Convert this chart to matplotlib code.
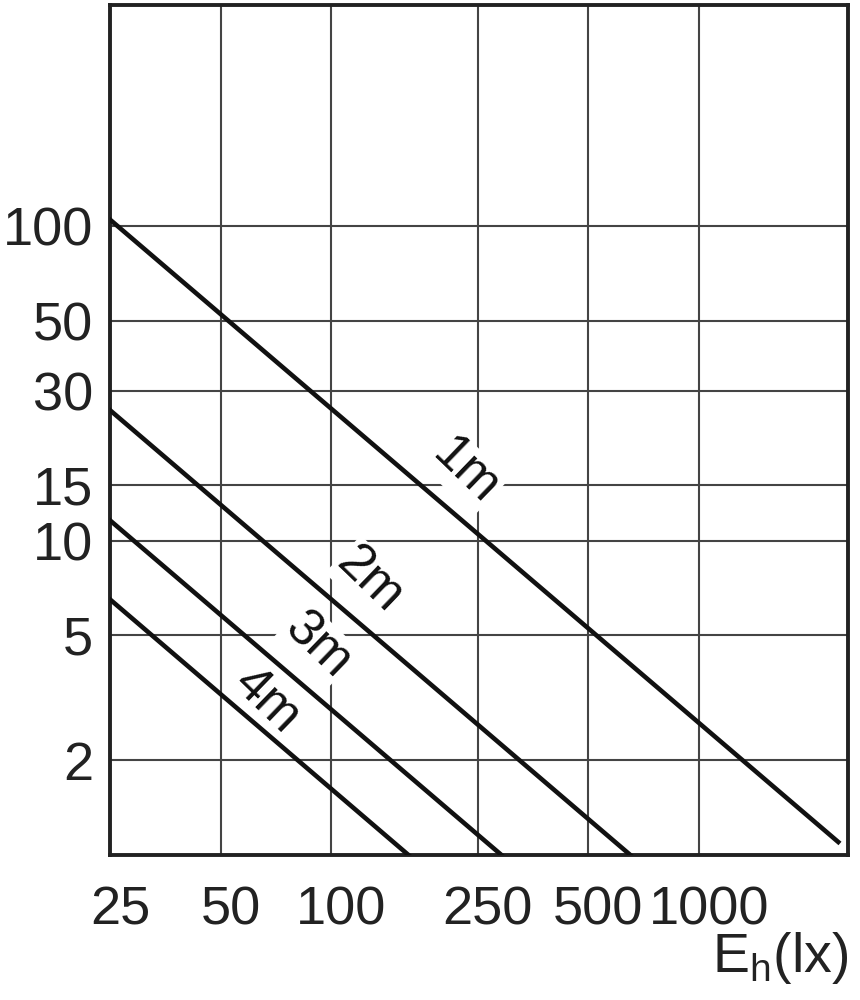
import matplotlib.pyplot as plt
import matplotlib.transforms as mtransforms
from matplotlib.ticker import FixedLocator, NullLocator

plt.rcParams['font.family'] = ['Liberation Sans', 'DejaVu Sans']

# illuminance E_h (lx) vs value, one line per mounting distance
dist_labels = ["1m", "2m", "3m", "4m"]
x_ends = [[25, 2390], [25, 650], [25, 290], [25, 162]]
y_ends = [[105, 1.1], [26, 1.0], [11.6, 1.0], [6.5, 1.0]]
label_x = [231, 127, 91.6, 66.8]
label_y = [16.6, 7.5, 4.65, 3.1]

xticks = [25, 50, 100, 250, 500, 1000]
yticks = [2, 5, 10, 15, 30, 50, 100]

fig = plt.figure(figsize=(8.6, 10), dpi=100)
ax = fig.add_axes([0.128, 0.145, 0.858, 0.85])
ax.set_xscale('log')
ax.set_yscale('log')
ax.set_xlim(25, 2540)
ax.set_ylim(1, 506)

ax.xaxis.set_major_locator(FixedLocator(xticks))
ax.yaxis.set_major_locator(FixedLocator(yticks))
ax.xaxis.set_minor_locator(NullLocator())
ax.yaxis.set_minor_locator(NullLocator())
ax.set_xticklabels([str(t) for t in xticks])
ax.set_yticklabels([str(t) for t in yticks])
ax.tick_params(length=0, labelsize=39, colors='#222222')
ax.tick_params(axis='y', pad=12)
ax.tick_params(axis='x', pad=22)

# x labels sit a little right of their grid lines in the original
shift = mtransforms.ScaledTranslation(10 / 100, 0, fig.dpi_scale_trans)
for lab in ax.get_xticklabels():
    lab.set_transform(lab.get_transform() + shift)

ax.grid(True, color='#444444', linewidth=1.5, zorder=1)
for s in ax.spines.values():
    s.set_linewidth(2.8)
    s.set_color('#222222')

for i in range(len(dist_labels)):
    ax.plot(x_ends[i], y_ends[i], color='#111111', linewidth=3.3, zorder=3)
    # white box hides the grid but stays under the curves
    ax.text(label_x[i], label_y[i], dist_labels[i], fontsize=37, rotation=-44,
            ha='center', va='center', color='#111111', zorder=2.5,
            bbox=dict(facecolor='white', edgecolor='none', pad=1))

fig.text(0.986, 0.042, r"E$_\mathregular{h}$(lx)", fontsize=40, ha='right',
         va='center', color='#222222')

fig.savefig("out.png")
